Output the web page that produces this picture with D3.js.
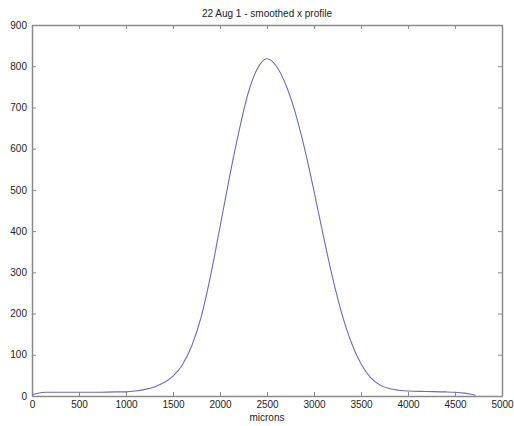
<!DOCTYPE html>
<html>
<head>
<meta charset="utf-8">
<script src="https://cdn.jsdelivr.net/npm/d3@7"></script>
<style>
  html, body { margin: 0; padding: 0; background: #fff; }
  svg { display: block; font-family: "Liberation Sans", Arial, sans-serif; }
</style>
</head>
<body>
<svg id="chart" width="514" height="426"></svg>
<script>
const title = "22 Aug 1 - smoothed x profile";
const xLabel = "microns";
const xTicks = [0, 500, 1000, 1500, 2000, 2500, 3000, 3500, 4000, 4500, 5000];
const yTicks = [0, 100, 200, 300, 400, 500, 600, 700, 800, 900];
const xValues = [0, 50, 150, 300, 500, 700, 900, 1000, 1100, 1200, 1300, 1400, 1500, 1600, 1700, 1800, 1900, 2000, 2100, 2200, 2300, 2400, 2500, 2600, 2700, 2800, 2900, 3000, 3100, 3200, 3300, 3400, 3500, 3600, 3700, 3800, 3900, 4000, 4200, 4400, 4500, 4600, 4660, 4720];
const yValues = [3, 6, 9, 9, 9, 9, 10, 10, 12, 16, 22, 32, 48, 76, 122, 192, 292, 410, 530, 640, 735, 795, 818, 800, 755, 688, 600, 497, 388, 285, 197, 128, 78, 45, 27, 18, 14, 12, 11, 10, 9, 7, 5, 2];

const W = 514, H = 426;
const margin = {left: 32, right: 12, top: 25, bottom: 30};
const svg = d3.select("#chart");

const x = d3.scaleLinear().domain([0, 5000]).range([margin.left, W - margin.right]);
const y = d3.scaleLinear().domain([0, 900]).range([H - margin.bottom, margin.top]);

const axisColor = "#8a8a8a";
const textColor = "#222";

function styleAxis(g, showLabels) {
  g.selectAll(".domain").attr("stroke", axisColor).attr("stroke-width", 1.5);
  g.selectAll(".tick line").attr("stroke", axisColor);
  g.selectAll(".tick text").attr("fill", textColor).style("font-size", "10px")
    .style("font-family", "'Liberation Sans', Arial, sans-serif");
  if (!showLabels) g.selectAll(".tick text").remove();
}

svg.append("g").attr("transform", `translate(0,${H - margin.bottom})`)
  .call(d3.axisBottom(x).tickValues(xTicks).tickSizeInner(-4).tickSizeOuter(0).tickPadding(5).tickFormat(d3.format("d")))
  .call(g => styleAxis(g, true));
svg.append("g").attr("transform", `translate(0,${margin.top})`)
  .call(d3.axisTop(x).tickValues(xTicks).tickSizeInner(-4).tickSizeOuter(0))
  .call(g => styleAxis(g, false));
svg.append("g").attr("transform", `translate(${margin.left},0)`)
  .call(d3.axisLeft(y).tickValues(yTicks).tickSizeInner(-4).tickSizeOuter(0).tickPadding(5).tickFormat(d3.format("d")))
  .call(g => styleAxis(g, true));
svg.append("g").attr("transform", `translate(${W - margin.right},0)`)
  .call(d3.axisRight(y).tickValues(yTicks).tickSizeInner(-4).tickSizeOuter(0))
  .call(g => styleAxis(g, false));

const data = xValues.map((v, i) => [v, yValues[i]]);
svg.append("path")
  .datum(data)
  .attr("fill", "none")
  .attr("stroke", "#6a6ac6")
  .attr("stroke-width", 1.1)
  .attr("d", d3.line().x(d => x(d[0])).y(d => y(d[1])).curve(d3.curveMonotoneX));

svg.append("text")
  .attr("x", (margin.left + W - margin.right) / 2)
  .attr("y", 17)
  .attr("text-anchor", "middle")
  .attr("fill", textColor)
  .style("font-size", "10px")
  .text(title);

svg.append("text")
  .attr("x", (margin.left + W - margin.right) / 2)
  .attr("y", 421)
  .attr("text-anchor", "middle")
  .attr("fill", textColor)
  .style("font-size", "10px")
  .text(xLabel);
</script>
</body>
</html>
